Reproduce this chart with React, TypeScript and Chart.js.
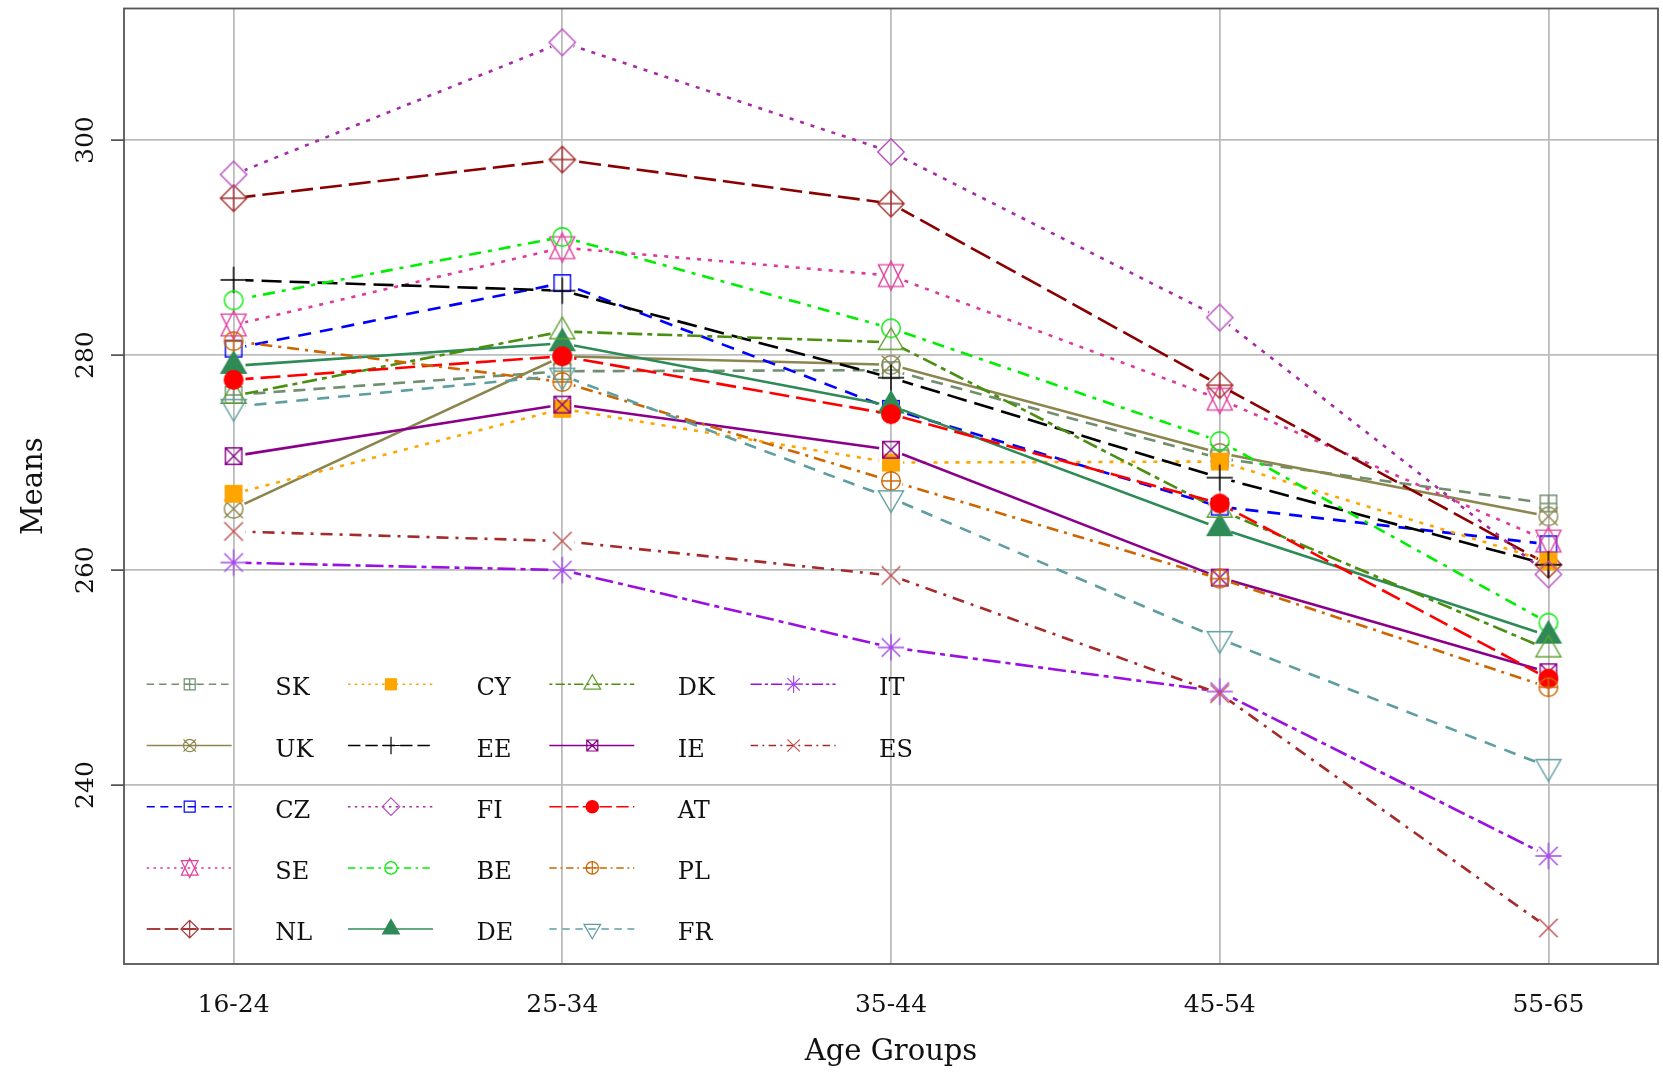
import React, { useEffect, useRef } from 'react';
import { Chart, registerables } from 'chart.js';

Chart.register(...registerables);

// ---------- data ----------
const ageGroups = ['16-24', '25-34', '35-44', '45-54', '55-65'];
const countries = ['SK', 'UK', 'CZ', 'SE', 'NL', 'CY', 'EE', 'FI', 'BE', 'DE', 'DK', 'IE', 'AT', 'PL', 'FR', 'IT', 'ES'];
const SK = [276.3, 278.5, 278.6, 270.4, 266.2];
const UK = [265.7, 279.9, 279.1, 270.9, 265.0];
const CZ = [280.6, 286.7, 275.0, 265.9, 262.4];
const SE = [282.8, 290.0, 287.4, 275.9, 262.7];
const NL = [294.6, 298.2, 294.1, 277.2, 260.5];
const CY = [267.1, 275.0, 270.0, 270.1, 260.8];
const EE = [287.0, 286.0, 277.9, 268.6, 260.5];
const FI = [296.8, 309.1, 298.9, 283.5, 259.6];
const BE = [285.1, 291.0, 282.5, 272.0, 255.1];
const DE = [279.0, 281.1, 275.3, 263.9, 253.9];
const DK = [276.2, 282.2, 281.2, 265.6, 252.6];
const IE = [270.6, 275.4, 271.2, 259.3, 250.5];
const AT = [277.7, 279.9, 274.5, 266.2, 249.9];
const PL = [281.3, 277.5, 268.3, 259.2, 249.1];
const FR = [275.2, 278.1, 266.7, 253.6, 241.7];
const IT = [260.7, 260.0, 252.8, 248.7, 233.4];
const ES = [263.6, 262.7, 259.5, 248.5, 226.7];
const seriesValues = [SK, UK, CZ, SE, NL, CY, EE, FI, BE, DE, DK, IE, AT, PL, FR, IT, ES];
const yTicks = [240, 260, 280, 300];

// ---------- styles ----------
type MarkerKind =
  | 'sqPlus' | 'circX' | 'sq' | 'david' | 'diaPlus' | 'sqFill' | 'plus' | 'dia'
  | 'circ' | 'triFill' | 'tri' | 'sqX' | 'circFill' | 'circPlus' | 'triDown' | 'asterisk' | 'x';

const styles: Record<string, { color: string; mcolor?: string; dash: number[]; marker: MarkerKind }> = {
  SK: { color: '#6f8f6f', dash: [12, 8], marker: 'sqPlus' },
  UK: { color: '#8b864e', dash: [], marker: 'circX' },
  CZ: { color: '#0000ff', dash: [13, 9], marker: 'sq' },
  SE: { color: '#dd3a9a', mcolor: '#e0409e', dash: [4, 7], marker: 'david' },
  NL: { color: '#8b0000', mcolor: '#a83232', dash: [22, 7], marker: 'diaPlus' },
  CY: { color: '#ffa500', dash: [4, 7], marker: 'sqFill' },
  EE: { color: '#000000', dash: [20, 8], marker: 'plus' },
  FI: { color: '#a52aa5', mcolor: '#b84fc0', dash: [4, 7], marker: 'dia' },
  BE: { color: '#00ee00', dash: [12, 7, 4, 7], marker: 'circ' },
  DE: { color: '#2e8b57', dash: [], marker: 'triFill' },
  DK: { color: '#4a8f10', mcolor: '#5fa030', dash: [5, 5, 15, 5], marker: 'tri' },
  IE: { color: '#8b008b', dash: [], marker: 'sqX' },
  AT: { color: '#ff0000', dash: [20, 7], marker: 'circFill' },
  PL: { color: '#cd6600', dash: [12, 6, 3, 6], marker: 'circPlus' },
  FR: { color: '#5f9ea0', dash: [12, 9], marker: 'triDown' },
  IT: { color: '#9a10e0', mcolor: '#a64ae8', dash: [18, 5, 5, 5], marker: 'asterisk' },
  ES: { color: '#a52a2a', mcolor: '#c05050', dash: [12, 7, 3, 7], marker: 'x' },
};

const FONT = "'DejaVu Serif', 'Liberation Serif', serif";
const GAP = 12;

function drawMarker(ctx: CanvasRenderingContext2D, m: MarkerKind, x: number, y: number, R: number, color: string, lw: number) {
  ctx.save();
  ctx.strokeStyle = color;
  ctx.fillStyle = color;
  ctx.lineWidth = lw;
  ctx.setLineDash([]);
  const sq = 0.886 * R;
  const d = Math.SQRT2 * R;
  const t0 = 1.5551 * R, t1 = 1.3468 * R, t2 = 0.7776 * R;
  const line = (x1: number, y1: number, x2: number, y2: number) => { ctx.moveTo(x1, y1); ctx.lineTo(x2, y2); };
  ctx.beginPath();
  switch (m) {
    case 'sq': ctx.rect(x - sq, y - sq, 2 * sq, 2 * sq); ctx.stroke(); break;
    case 'sqPlus': ctx.rect(x - sq, y - sq, 2 * sq, 2 * sq); line(x - sq, y, x + sq, y); line(x, y - sq, x, y + sq); ctx.stroke(); break;
    case 'sqX': ctx.rect(x - sq, y - sq, 2 * sq, 2 * sq); line(x - sq, y - sq, x + sq, y + sq); line(x - sq, y + sq, x + sq, y - sq); ctx.stroke(); break;
    case 'sqFill': ctx.rect(x - sq - lw / 2, y - sq - lw / 2, 2 * sq + lw, 2 * sq + lw); ctx.fill(); break;
    case 'circ': ctx.arc(x, y, R, 0, Math.PI * 2); ctx.stroke(); break;
    case 'circFill': ctx.arc(x, y, R + lw / 2, 0, Math.PI * 2); ctx.fill(); break;
    case 'circPlus': ctx.arc(x, y, R, 0, Math.PI * 2); line(x - R, y, x + R, y); line(x, y - R, x, y + R); ctx.stroke(); break;
    case 'circX': ctx.arc(x, y, R, 0, Math.PI * 2); line(x - R, y - R, x + R, y + R); line(x - R, y + R, x + R, y - R); ctx.stroke(); break;
    case 'plus': line(x - d, y, x + d, y); line(x, y - d, x, y + d); ctx.stroke(); break;
    case 'x': line(x - R, y - R, x + R, y + R); line(x - R, y + R, x + R, y - R); ctx.stroke(); break;
    case 'asterisk': line(x - R, y - R, x + R, y + R); line(x - R, y + R, x + R, y - R); line(x - d, y, x + d, y); line(x, y - d, x, y + d); ctx.stroke(); break;
    case 'dia': ctx.moveTo(x, y - d); ctx.lineTo(x + d, y); ctx.lineTo(x, y + d); ctx.lineTo(x - d, y); ctx.closePath(); ctx.stroke(); break;
    case 'diaPlus': ctx.moveTo(x, y - d); ctx.lineTo(x + d, y); ctx.lineTo(x, y + d); ctx.lineTo(x - d, y); ctx.closePath(); line(x - d, y, x + d, y); line(x, y - d, x, y + d); ctx.stroke(); break;
    case 'tri': ctx.moveTo(x, y - t0); ctx.lineTo(x + t1, y + t2); ctx.lineTo(x - t1, y + t2); ctx.closePath(); ctx.stroke(); break;
    case 'triFill': ctx.moveTo(x, y - t0); ctx.lineTo(x + t1, y + t2); ctx.lineTo(x - t1, y + t2); ctx.closePath(); ctx.fill(); ctx.stroke(); break;
    case 'triDown': ctx.moveTo(x, y + t0); ctx.lineTo(x + t1, y - t2); ctx.lineTo(x - t1, y - t2); ctx.closePath(); ctx.stroke(); break;
    case 'david': {
      const yc = 0.5 * (t2 + t0);
      ctx.moveTo(x, y - t0); ctx.lineTo(x + t1, y + yc); ctx.lineTo(x - t1, y + yc); ctx.closePath();
      ctx.moveTo(x, y + t0); ctx.lineTo(x + t1, y - yc); ctx.lineTo(x - t1, y - yc); ctx.closePath();
      ctx.stroke();
      break;
    }
  }
  ctx.restore();
}

function makeMarkerCanvas(kind: MarkerKind, color: string) {
  const c = document.createElement('canvas');
  c.width = 40;
  c.height = 40;
  const g = c.getContext('2d')!;
  drawMarker(g, kind, 20, 20, 9.3, color, 1.4);
  return c;
}

const gapPlugin = {
  id: 'gapPlugin',
  beforeDatasetDraw(chart: any, args: any) {
    const ctx = chart.ctx;
    const meta = args.meta;
    ctx.save();
    ctx.beginPath();
    ctx.rect(0, 0, chart.width, chart.height);
    meta.data.forEach((p: any) => {
      ctx.moveTo(p.x + GAP, p.y);
      ctx.arc(p.x, p.y, GAP, 0, Math.PI * 2);
    });
    ctx.clip('evenodd');
    meta.data.forEach((p: any) => { p.hidden = true; });
  },
  afterDatasetDraw(chart: any, args: any) {
    const ctx = chart.ctx;
    ctx.restore();
    args.meta.data.forEach((p: any) => {
      p.hidden = false;
      p.draw(ctx, chart.chartArea);
    });
  },
};

const decorPlugin = {
  id: 'decorPlugin',
  afterDraw(chart: any) {
    const ctx: CanvasRenderingContext2D = chart.ctx;
    const a = chart.chartArea;
    const xs = chart.scales.x;
    const ys = chart.scales.y;
    ctx.save();
    // legend (column-major, 5 rows)
    countries.forEach((c, k) => {
      const col = Math.floor(k / 5);
      const row = k % 5;
      const x0 = a.left + 22.7 + col * 201.3;
      const yRow = 684.3 + row * 61.2;
      const st = styles[c];
      ctx.save();
      ctx.strokeStyle = st.color;
      ctx.lineWidth = 1.5;
      ctx.setLineDash(st.dash.map((v) => v * 0.62));
      ctx.beginPath();
      ctx.moveTo(x0, yRow);
      ctx.lineTo(x0 + 85, yRow);
      ctx.stroke();
      ctx.restore();
      drawMarker(ctx, st.marker, x0 + 43, yRow, 6.2, st.mcolor || st.color, 1.2);
      ctx.fillStyle = '#111';
      ctx.font = `24px ${FONT}`;
      ctx.textAlign = 'left';
      ctx.textBaseline = 'alphabetic';
      ctx.fillText(c, x0 + 128.5, yRow + 11);
    });
    // frame
    ctx.setLineDash([]);
    ctx.strokeStyle = '#555';
    ctx.lineWidth = 1.8;
    ctx.strokeRect(a.left, a.top, a.right - a.left, a.bottom - a.top);
    // y tick marks
    ctx.beginPath();
    yTicks.forEach((v) => {
      const py = ys.getPixelForValue(v);
      ctx.moveTo(a.left - 13, py);
      ctx.lineTo(a.left, py);
    });
    ctx.stroke();
    // tick labels
    ctx.fillStyle = '#111';
    ctx.font = `25px ${FONT}`;
    ctx.textAlign = 'center';
    ctx.textBaseline = 'alphabetic';
    yTicks.forEach((v) => {
      const py = ys.getPixelForValue(v);
      ctx.save();
      ctx.translate(a.left - 31, py);
      ctx.rotate(-Math.PI / 2);
      ctx.fillText(String(v), 0, 0);
      ctx.restore();
    });
    ageGroups.forEach((g, i) => {
      ctx.fillText(g, xs.getPixelForValue(i), a.bottom + 47.5);
    });
    // axis titles
    ctx.font = `29px ${FONT}`;
    ctx.fillText('Age Groups', (a.left + a.right) / 2, a.bottom + 96);
    ctx.save();
    ctx.translate(a.left - 82, (a.top + a.bottom) / 2);
    ctx.rotate(-Math.PI / 2);
    ctx.fillText('Means', 0, 0);
    ctx.restore();
    ctx.restore();
  },
};

export default function App() {
  const ref = useRef<HTMLCanvasElement | null>(null);

  useEffect(() => {
    document.body.style.margin = '0';
    const canvas = ref.current;
    if (!canvas) return;
    const n = countries.length;
    const datasets = countries.map((c, i) => {
      const st = styles[c];
      return {
        label: c,
        data: seriesValues[i].map((v, j) => ({ x: j, y: v })),
        borderColor: st.color,
        backgroundColor: st.color,
        borderWidth: 2.6,
        borderDash: st.dash,
        borderCapStyle: 'butt' as const,
        pointStyle: makeMarkerCanvas(st.marker, st.mcolor || st.color),
        pointRadius: 10,
        pointHoverRadius: 10,
        fill: false,
        tension: 0,
        order: n - i,
      };
    });
    const chart = new Chart(canvas, {
      type: 'line',
      data: { datasets },
      options: {
        animation: false,
        responsive: false,
        devicePixelRatio: 1,
        events: [],
        layout: { autoPadding: false, padding: { left: 124, top: 8.5, right: 5, bottom: 115 } },
        plugins: { legend: { display: false }, tooltip: { enabled: false } },
        scales: {
          x: {
            type: 'linear',
            min: -1 / 3,
            max: 4 + 1 / 3,
            ticks: { stepSize: 1, includeBounds: false, display: false },
            grid: { color: '#bcbcbc', lineWidth: 1.8, drawTicks: false },
            border: { display: false },
          },
          y: {
            type: 'linear',
            min: 223.35,
            max: 312.25,
            ticks: { stepSize: 20, includeBounds: false, display: false },
            grid: { color: '#bcbcbc', lineWidth: 1.8, drawTicks: false },
            border: { display: false },
          },
        },
      },
      plugins: [gapPlugin, decorPlugin],
    });
    return () => chart.destroy();
  }, []);

  return <canvas ref={ref} width={1663} height={1079} style={{ display: 'block', width: '1663px', height: '1079px' }} />;
}
